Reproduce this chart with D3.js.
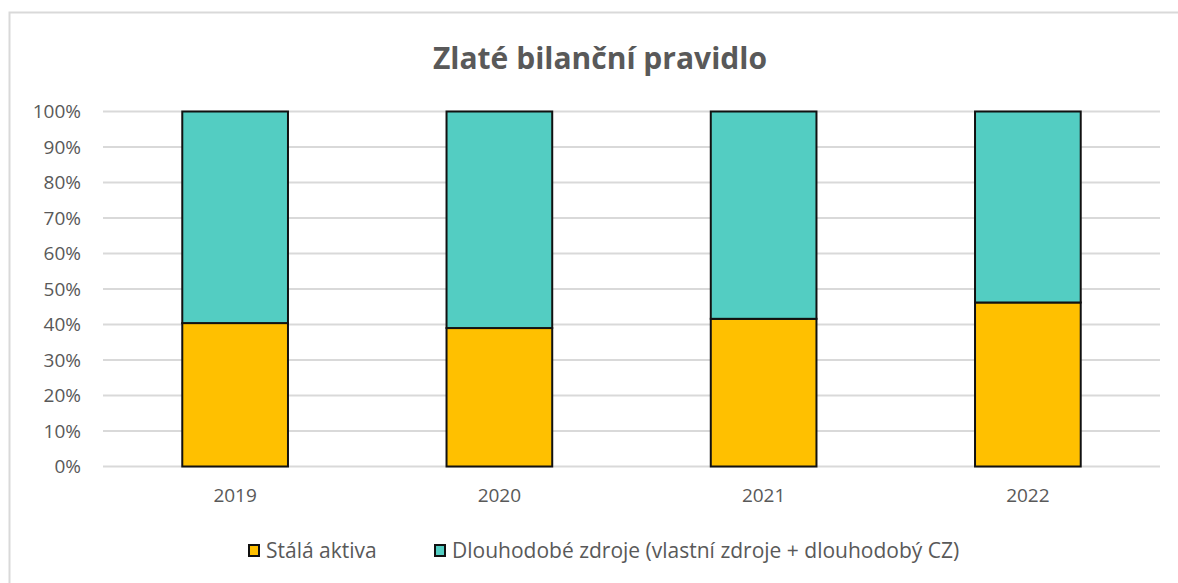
<!DOCTYPE html>
<html>
<head>
<meta charset="utf-8">
<script src="https://cdn.jsdelivr.net/npm/d3@7"></script>
<style>
  body { margin: 0; background: #fff; }
  svg text { font-family: "Open Sans", "Liberation Sans", sans-serif; fill: #595959; }
</style>
</head>
<body>
<svg id="chart" width="1178" height="583"></svg>
<script>
const years = ['2019', '2020', '2021', '2022'];
const staleAktiva = [40.4, 39.0, 41.6, 46.2];
const dlouhodobeZdroje = [59.6, 61.0, 58.4, 53.8];
const seriesNames = ['Stálá aktiva', 'Dlouhodobé zdroje (vlastní zdroje + dlouhodobý CZ)'];
const seriesColors = ['#ffc000', '#53cdc2'];
const yTicks = [0, 10, 20, 30, 40, 50, 60, 70, 80, 90, 100];

const svg = d3.select('#chart');

// outer chart border
svg.append('rect')
    .attr('x', 9.5).attr('y', 12.5)
    .attr('width', 1200).attr('height', 600)
    .attr('fill', 'none')
    .attr('stroke', '#d9d9d9')
    .attr('stroke-width', 2);

const plotLeft = 103, plotRight = 1160, plotTop = 111.5, plotBottom = 466.5;

var x = d3.scaleBand()
    .domain(years)
    .range([plotLeft, plotRight])
    .paddingInner(0.6)
    .paddingOuter(0.3);

var y = d3.scaleLinear()
    .domain([0, 100])
    .range([plotBottom, plotTop]);

// gridlines
svg.append('g')
    .selectAll('line')
    .data(yTicks)
    .join('line')
    .attr('x1', plotLeft).attr('x2', plotRight)
    .attr('y1', d => y(d)).attr('y2', d => y(d))
    .attr('stroke', '#d9d9d9')
    .attr('stroke-width', 2);

// y labels
var yAxis = d3.axisLeft(y)
    .tickValues(yTicks)
    .tickFormat(d => d + '%')
    .tickSize(0)
    .tickPadding(0);
var gy = svg.append('g')
    .attr('transform', `translate(${plotLeft - 22},0)`)
    .call(yAxis);
gy.select('.domain').remove();
gy.selectAll('text').attr('font-size', 19).attr('fill', '#595959')
    .style('font-family', '"Open Sans", sans-serif');

// x labels
var xAxis = d3.axisBottom(x).tickSize(0).tickPadding(0);
var gx = svg.append('g')
    .attr('transform', `translate(0,${plotBottom + 22})`)
    .call(xAxis);
gx.select('.domain').remove();
gx.selectAll('text').attr('font-size', 19).attr('fill', '#595959')
    .style('font-family', '"Open Sans", sans-serif');

// stacked bars
var table = years.map((yr, i) => ({ year: yr, a: staleAktiva[i], b: dlouhodobeZdroje[i] }));
var stack = d3.stack().keys(['a', 'b'])(table);

svg.append('g')
    .selectAll('g')
    .data(stack)
    .join('g')
    .attr('fill', (d, i) => seriesColors[i])
    .selectAll('rect')
    .data(d => d)
    .join('rect')
    .attr('x', d => x(d.data.year))
    .attr('y', d => y(d[1]))
    .attr('width', x.bandwidth())
    .attr('height', d => y(d[0]) - y(d[1]))
    .attr('stroke', '#111')
    .attr('stroke-width', 2);

// title
svg.append('text')
    .attr('x', 600).attr('y', 69)
    .attr('text-anchor', 'middle')
    .attr('font-size', 30)
    .attr('font-weight', 'bold')
    .style('font-family', '"Open Sans", sans-serif')
    .text('Zlaté bilanční pravidlo');

// legend
var legendX = [248, 434];
var lg = svg.append('g')
    .selectAll('g')
    .data(seriesNames)
    .join('g')
    .attr('transform', (d, i) => `translate(${legendX[i]},544)`);
lg.append('rect')
    .attr('x', 1).attr('y', 1)
    .attr('width', 10).attr('height', 11)
    .attr('fill', (d, i) => seriesColors[i])
    .attr('stroke', '#111')
    .attr('stroke-width', 2);
lg.append('text')
    .attr('x', 18).attr('y', 13.5)
    .attr('font-size', 21)
    .text(d => d);
</script>
</body>
</html>
